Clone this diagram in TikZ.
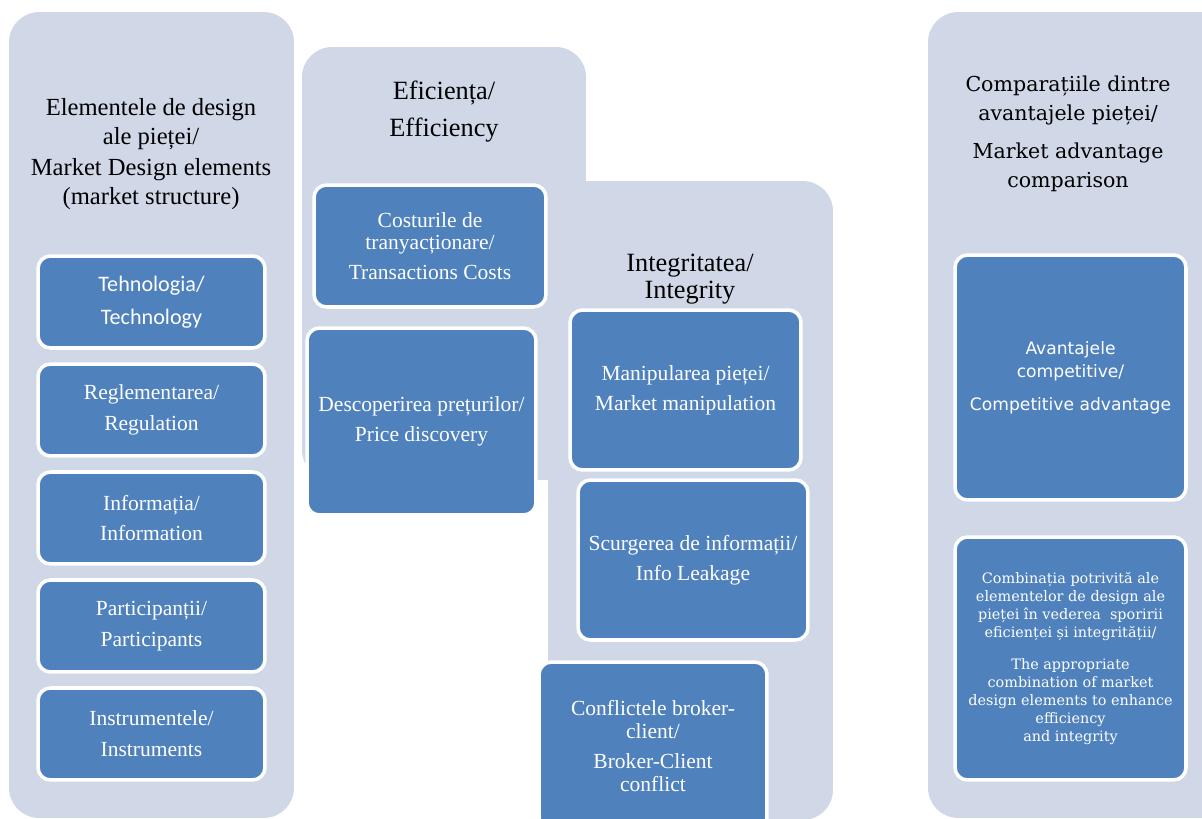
\documentclass[tikz,border=0pt]{standalone}
\usepackage{fontspec}
\setmainfont{Liberation Serif}
\newfontfamily\calibfont{Carlito}
\newfontfamily\dvsansfont{DejaVu Sans}
\newfontfamily\dvseriffont{DejaVu Serif}
\usetikzlibrary{positioning}
\definecolor{panelblue}{RGB}{208,216,232}
\definecolor{boxblue}{RGB}{79,129,189}

\begin{document}
\begin{tikzpicture}[x=0.02cm,y=-0.02cm,
		panel/.style={fill=panelblue,rounded corners=0.6cm,inner sep=0pt},
		item/.style={draw=white,line width=2pt,fill=boxblue,rounded corners=0.25cm,text=white,align=center,inner sep=2pt,font=\fontsize{12.25}{13}\selectfont},
		elem/.style={item,minimum width=4.54cm,minimum height=1.84cm},
		head/.style={align=center,font=\fontsize{14}{16.5}\selectfont}]
		\useasboundingbox (0,0) rectangle (1202,818);
		\clip (0,0) rectangle (1202,818);
		\node[panel,minimum width=5.7cm,minimum height=16.12cm](elempanel) at (151.5,415) {};
		\node[panel,minimum width=5.68cm,minimum height=8.66cm](effpanel) at (444,263.5) {};
		\node[panel,minimum width=5.7cm,minimum height=12.78cm](intpanel) at (690.5,500.5) {};
		\node[panel,minimum width=6.04cm,minimum height=16.12cm](advpanel) at (1079,415) {};
		\node[head](elemtitle) at (151,154) {Elementele de design\\ale pieței/\\[1.5pt]Market Design elements\\(market structure)};
		\node[head,font=\fontsize{15}{16.5}\selectfont](efftitle) at (444,112) {Eficiența/\\[4.5pt]Efficiency};
		\node[head,font=\fontsize{15}{16.5}\selectfont](inttitle) at (690,279) {Integritatea/\\[-1pt]Integrity};
		\node[head,font=\dvseriffont\fontsize{11.7}{16.5}\selectfont](advtitle) at (1068,134) {Comparațiile dintre\\avantajele pieței/\\[5pt]Market advantage\\comparison};
		\node[elem,font=\calibfont\fontsize{12.6}{13}\selectfont](tech) at (151.5,302) {Tehnologia/\\[5.7pt]Technology};
		\node[elem,below=0.25cm of tech](reg) {Reglementarea/\\[4.5pt]Regulation};
		\node[elem,below=0.25cm of reg](info) {Informația/\\[4.5pt]Information};
		\node[elem,below=0.25cm of info](part) {Participanții/\\[4.5pt]Participants};
		\node[elem,below=0.25cm of part](instr) {Instrumentele/\\[4.5pt]Instruments};
		\node[item,minimum width=4.64cm,minimum height=2.44cm](cost) at (430,246) {Costurile de\\tranyacționare/\\[4pt]Transactions Costs};
		\node[item,minimum width=4.58cm,minimum height=3.74cm](price) at (421.5,421.5) {Descoperirea prețurilor/\\[4pt]Price discovery};
		\node[item,minimum width=4.62cm,minimum height=3.2cm](manip) at (685.5,390) {Manipularea pieței/\\[4pt]Market manipulation};
		\node[item,minimum width=4.6cm,minimum height=3.2cm](leak) at (693,560) {Scurgerea de informații/\\[4pt]Info Leakage};
		\node[item,minimum width=4.56cm,minimum height=3.36cm](broker) at (653,746) {Conflictele broker-\\client/\\[4pt]Broker-Client\\conflict};
		\node[item,minimum width=4.62cm,minimum height=4.9cm,font=\dvsansfont\fontsize{9.75}{13}\selectfont](compadv) at (1070.5,377.5) {Avantajele\\competitive/\\[5.7pt]Competitive advantage};
		\node[item,minimum width=4.62cm,minimum height=4.86cm,font=\dvseriffont\fontsize{8.2}{10.2}\selectfont](combo) at (1070.5,658.5) {Combinația potrivită ale\\elementelor de design ale\\pieței în vederea\ \ sporirii\\eficienței și integrității/\\[8pt]The appropriate\\combination of market\\design elements to enhance\\efficiency\\and integrity};
	\end{tikzpicture}
\end{document}
